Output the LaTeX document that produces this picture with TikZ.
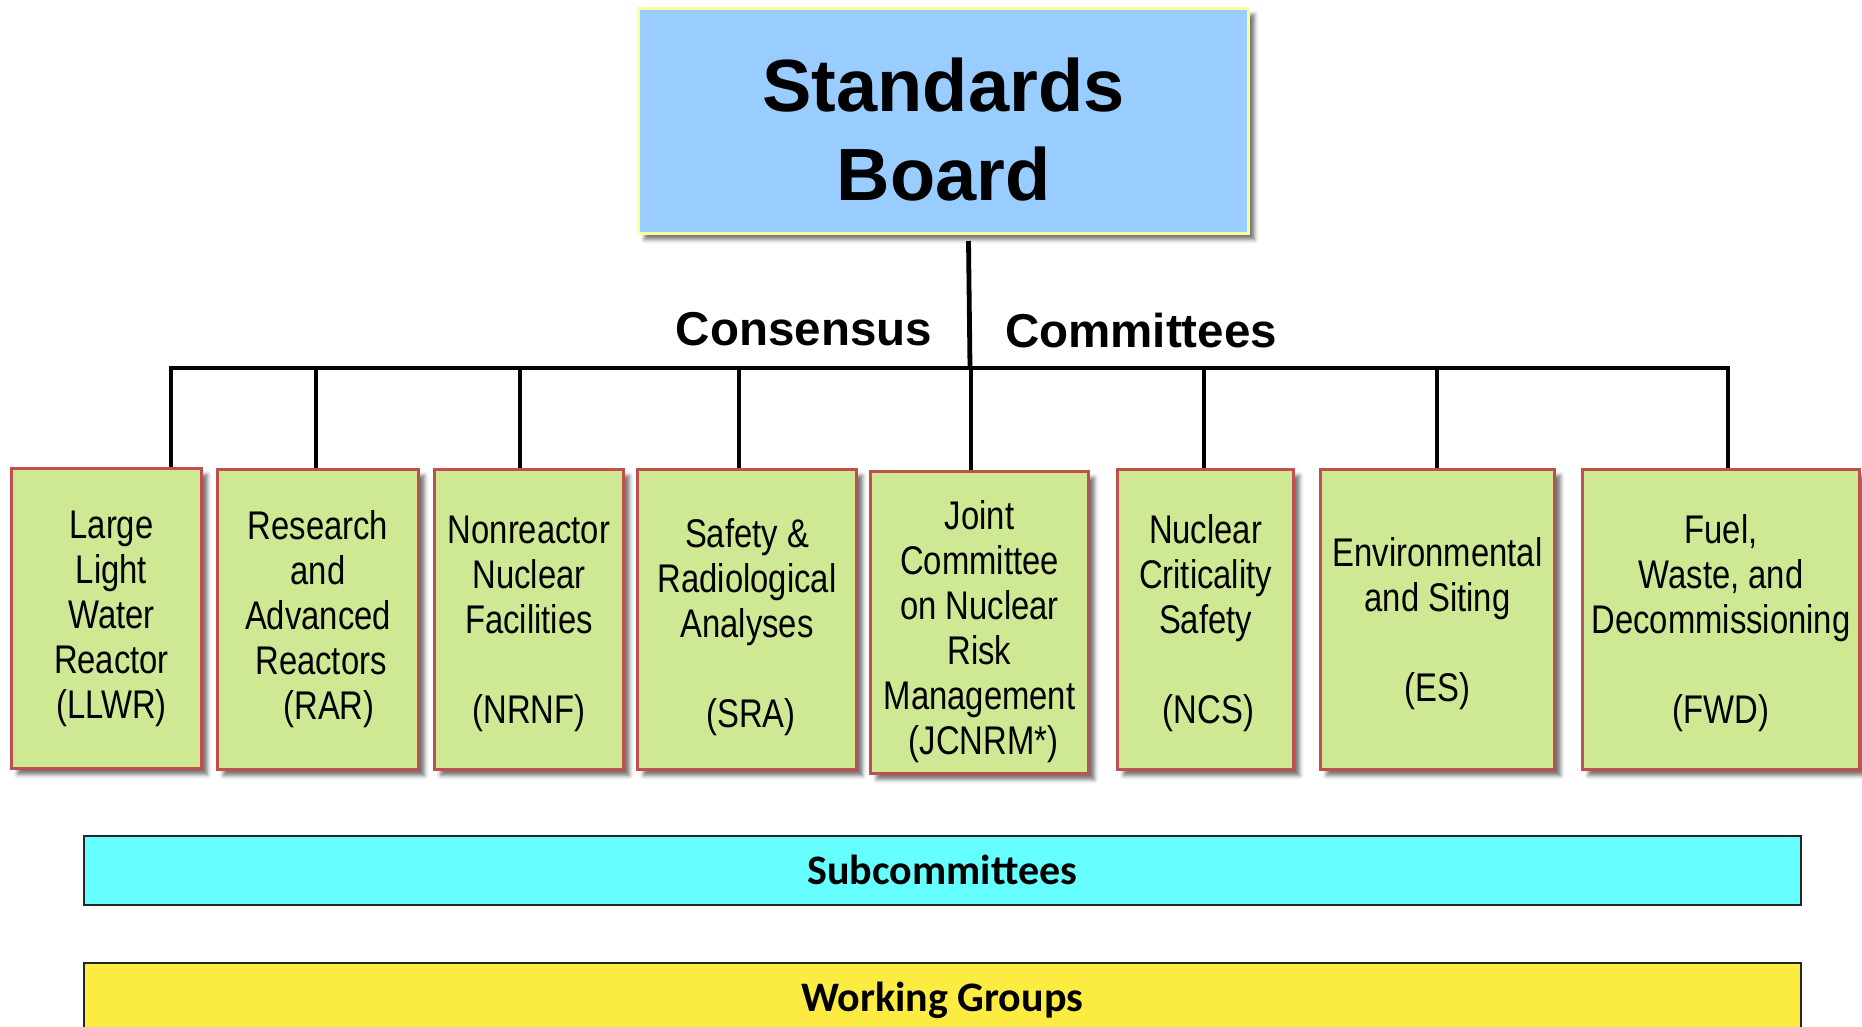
\documentclass[tikz,border=0pt]{standalone}
\usepackage{fontspec}
\setmainfont{Liberation Sans}
\newfontfamily\narrowfont[FakeStretch=0.82]{Liberation Sans}
\newfontfamily\calfont{Carlito}
\usetikzlibrary{shadows.blur}
\definecolor{boxgreen}{RGB}{207,232,148}
\definecolor{boxred}{RGB}{192,80,77}
\definecolor{boardblue}{RGB}{153,204,255}
\definecolor{boardedge}{RGB}{255,255,153}
\definecolor{subcyan}{RGB}{102,255,255}
\definecolor{wgyellow}{RGB}{252,236,66}
\newcommand{\lift}[1]{\rule{0pt}{#1pt}}
\tikzset{
  conn/.style={line width=4.8pt, black},
  cbox/.style={draw=boxred, line width=3pt, fill=boxgreen, anchor=north west,
    inner sep=0pt, align=center,
    font=\narrowfont\fontsize{40}{45}\selectfont,
    blur shadow={shadow xshift=6pt, shadow yshift=-6pt, shadow blur radius=4pt, shadow opacity=55}},
  boardbox/.style={draw=boardedge, line width=3pt, fill=boardblue, anchor=north west,
    minimum width=610pt, minimum height=225pt,
    blur shadow={shadow xshift=6pt, shadow yshift=-6pt, shadow blur radius=4pt, shadow opacity=55}},
  boardtext/.style={align=center, font=\bfseries\fontsize{74}{89}\selectfont},
  headlbl/.style={font=\bfseries\fontsize{47.5}{55}\selectfont, inner sep=0pt},
  bar/.style={draw=black!85, line width=1.5pt, anchor=north west,
    minimum width=1717pt, minimum height=69pt,
    font=\calfont\bfseries\fontsize{42}{48}\selectfont}
}
\begin{document}
\begin{tikzpicture}[x=1pt,y=-1pt]
\useasboundingbox (0,0) rectangle (1862,1026);
\clip (0,0) rectangle (1862,1026);
% Standards Board
\node[boardbox] (board) at (637,7) {};
\node[boardtext] (boardtxt) at ([yshift=-9pt]board.center) {Standards\\Board};
% labels
\node[headlbl] (cons) at (804,329) {Consensus};
\node[headlbl] (comm) at (1141,331) {Committees};
% committee boxes
\node[cbox, minimum width=190pt, minimum height=300pt] (b1) at (10,467)
  {\hspace*{10pt}Large\\\hspace*{10pt}Light\\\hspace*{10pt}Water\\\hspace*{10pt}Reactor\\\hspace*{10pt}(LLWR)};
\node[cbox, minimum width=201pt, minimum height=300pt] (b2) at (216,468)
  {Research\\and\\Advanced\\\hspace*{6pt}Reactors\\\hspace*{22pt}(RAR)};
\node[cbox, minimum width=189pt, minimum height=300pt] (b3) at (433,468)
  {\lift{36}Nonreactor\\Nuclear\\Facilities\\[45pt](NRNF)};
\node[cbox, minimum width=219pt, minimum height=300pt] (b4) at (636,468)
  {\lift{44}Safety \&\\Radiological\\Analyses\\[45pt]\hspace*{8pt}(SRA)};
\node[cbox, minimum width=218pt, minimum height=302pt] (b5) at (869,470)
  {\lift{48}Joint\\Committee\\on Nuclear\\Risk\\Management\\\hspace*{8pt}(JCNRM*)};
\node[cbox, minimum width=176pt, minimum height=300pt] (b6) at (1116,468)
  {\lift{37}Nuclear\\Criticality\\Safety\\[45pt]\hspace*{6pt}(NCS)};
\node[cbox, minimum width=234pt, minimum height=300pt] (b7) at (1319,468)
  {\lift{37}Environmental\\and Siting\\[45pt](ES)};
\node[cbox, minimum width=277pt, minimum height=300pt] (b8) at (1581,468)
  {\lift{37}Fuel,\\Waste, and\\Decommissioning\\[45pt](FWD)};
% bus
\coordinate (busL) at (171,368);
\coordinate (busR) at (1728,368);
\coordinate (hub) at (970,368);
\coordinate (d1) at (171,368);
\coordinate (d2) at (316,368);
\coordinate (d3) at (520,368);
\coordinate (d4) at (739,368);
\coordinate (d5) at (971,368);
\coordinate (d6) at (1204,368);
\coordinate (d7) at (1437,368);
\coordinate (d8) at (1728,368);
\draw[conn] ([xshift=25pt,yshift=-6pt]board.south) -- (hub);
\draw[conn, line cap=rect] (busL) -- (busR);
\foreach \i in {1,...,8} {
  \draw[conn] (d\i) -- (d\i |- b\i.north);
}
% bars
\node[bar, fill=subcyan] (sub) at (83,835) {Subcommittees};
\node[bar, fill=wgyellow, minimum height=75pt] (wg) at (83,962) {Working Groups};
\end{tikzpicture}
\end{document}
